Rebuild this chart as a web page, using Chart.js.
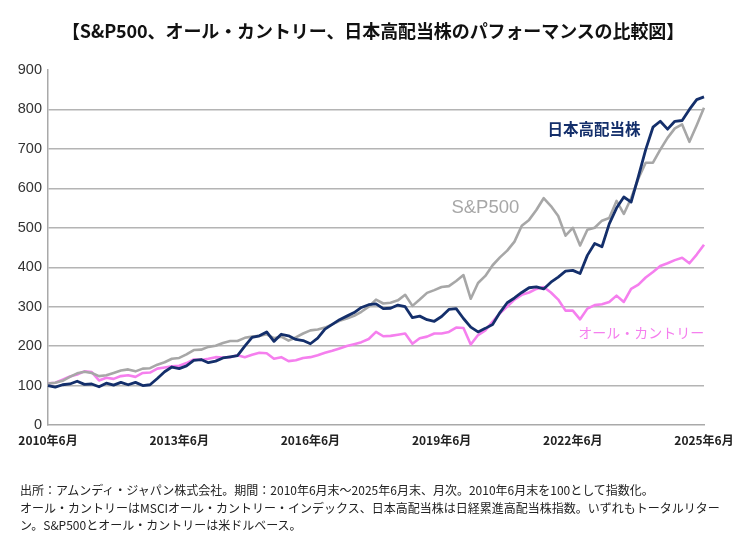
<!DOCTYPE html>
<html><head><meta charset="utf-8">
<script src="https://cdn.jsdelivr.net/npm/chart.js@4.4.1/dist/chart.umd.min.js"></script>
<style>
html,body{margin:0;padding:0;background:#fff;}
body{width:746px;height:533px;position:relative;overflow:hidden;font-family:"Noto Sans CJK JP","Noto Sans",sans-serif;}
#wrap{position:absolute;left:0;top:0;width:746px;height:533px;}
#title{position:absolute;top:17px;left:0;width:746px;text-align:center;font-size:18px;font-weight:bold;color:#111;line-height:26px;letter-spacing:-0.1px;}
#note{position:absolute;left:20px;top:481px;font-size:12px;line-height:17.5px;color:#222;white-space:nowrap;}
</style></head><body>
<div id="wrap"><canvas id="c"></canvas></div>
<div id="title">【S&amp;P500、オール・カントリー、日本高配当株のパフォーマンスの比較図】</div>
<div id="note">出所：アムンディ・ジャパン株式会社。期間：2010年6月末～2025年6月末、月次。2010年6月末を100として指数化。<br>オール・カントリーはMSCIオール・カントリー・インデックス、日本高配当株は日経累進高配当株指数。いずれもトータルリター<br>ン。S&amp;P500とオール・カントリーは米ドルベース。</div>
<script>
// Series values, every 2 months from 2010年6月 to 2025年6月 (91 points)
const spx500 = [105,107,112,122,131,135,132,124,126,132,138,141,136,143,144,153,159,168,170,179,190,191,198,201,208,213,213,221,224,226,230,220,224,214,222,232,240,242,247,255,264,270,277,287,300,318,308,310,316,330,302,318,335,342,350,352,365,380,320,360,378,405,425,442,465,505,520,545,575,555,530,480,500,455,495,500,518,525,568,535,575,625,665,665,698,728,752,762,718,760,804];
const japanHighDividend = [100,96,102,104,111,103,104,97,106,101,108,102,108,100,102,118,135,147,143,150,164,166,158,162,170,173,176,200,222,226,236,212,230,226,217,214,206,220,243,255,267,276,285,298,305,307,295,296,304,300,272,276,267,263,275,293,295,270,248,236,245,255,285,310,322,336,348,350,345,362,375,390,392,384,430,460,452,510,550,578,565,630,698,755,770,750,770,772,800,825,832];
const allCountry = [106,107,115,123,128,136,134,113,120,117,124,126,122,132,133,143,146,149,150,157,166,165,168,172,171,172,177,172,178,183,182,168,172,162,164,170,172,177,183,188,194,200,205,210,218,236,225,226,229,232,206,220,224,232,232,236,247,246,204,228,240,262,283,300,318,330,336,345,350,336,318,290,290,268,295,304,306,312,328,312,345,356,374,388,403,410,418,424,410,432,457];
const yTickValues = [0,100,200,300,400,500,600,700,800,900];
const xTickLabels = ['2010年6月','2013年6月','2016年6月','2019年6月','2022年6月','2025年6月'];
const seriesNames = ['日本高配当株','S&P500','オール・カントリー'];

// category labels (every 2 months)
const categories = [];
for (let i = 0; i < spx500.length; i++) {
  const t = 2010 * 12 + 5 + 2 * i;
  categories.push(Math.floor(t / 12) + '年' + (t % 12 + 1) + '月');
}

const NAVY = '#142f6b', GRAY = '#a7a7a7', PINK = '#f57fee';

const labelPlugin = {
  id: 'seriesLabels',
  afterDatasetsDraw(chart) {
    const {ctx, scales: {x, y}} = chart;
    const items = [
      {text: seriesNames[0], xi: 74.9, v: 749, color: NAVY, font: 'bold 15.5px "Noto Sans CJK JP"'},
      {text: seriesNames[1], xi: 60.0, v: 551, color: GRAY, font: '18.5px "Liberation Sans", Arial, sans-serif'},
      {text: seriesNames[2], xi: 81.4, v: 234, color: PINK, font: '14px "Noto Sans CJK JP"'}
    ];
    ctx.save();
    ctx.textAlign = 'center';
    ctx.textBaseline = 'middle';
    items.forEach(it => {
      ctx.font = it.font;
      ctx.fillStyle = it.color;
      ctx.fillText(it.text, x.getPixelForValue(it.xi), y.getPixelForValue(it.v));
    });
    ctx.restore();
  }
};

new Chart(document.getElementById('c'), {
  type: 'line',
  data: {
    labels: categories,
    datasets: [
      {label: seriesNames[0], data: japanHighDividend, borderColor: NAVY, borderWidth: 2.8, order: 1},
      {label: seriesNames[1], data: spx500, borderColor: GRAY, borderWidth: 2.6, order: 2},
      {label: seriesNames[2], data: allCountry, borderColor: PINK, borderWidth: 2.6, order: 3}
    ]
  },
  options: {
    responsive: true,
    maintainAspectRatio: false,
    animation: false,
    devicePixelRatio: 1,
    layout: {padding: {top: 70, left: 0, right: 42, bottom: 78}},
    elements: {point: {radius: 0}, line: {tension: 0, borderJoinStyle: 'round'}},
    plugins: {legend: {display: false}, tooltip: {enabled: false}, title: {display: false}},
    scales: {
      x: {
        type: 'category',
        offset: false,
        grid: {display: false, drawTicks: false},
        border: {display: true, color: '#a9a9a9', width: 1.5},
        afterBuildTicks(scale) {
          scale.ticks = scale.ticks.filter(t => t.value % 18 === 0);
        },
        afterFit(scale) { scale.height = 30; },
        ticks: {
          autoSkip: false, maxRotation: 0, padding: 8, color: '#222',
          font: {family: '"Noto Sans CJK JP"', size: 12, weight: 'bold'},
          callback(value, index) { return xTickLabels[index]; }
        }
      },
      y: {
        min: 0, max: 900,
        afterBuildTicks(scale) { scale.ticks = yTickValues.map(v => ({value: v})); },
        afterFit(scale) { scale.width = 48; },
        grid: {
          drawTicks: false, lineWidth: 1.4,
          color(ctx) { return (ctx.tick && (ctx.tick.value === 900 || ctx.tick.value === 0)) ? 'rgba(0,0,0,0)' : '#b4b4b4'; }
        },
        border: {display: true, color: '#a9a9a9', width: 1.5},
        ticks: {
          padding: 6, color: '#333',
          font: {family: '"Liberation Sans", Arial, sans-serif', size: 14.5}
        }
      }
    }
  },
  plugins: [labelPlugin]
});
</script>
</body></html>
